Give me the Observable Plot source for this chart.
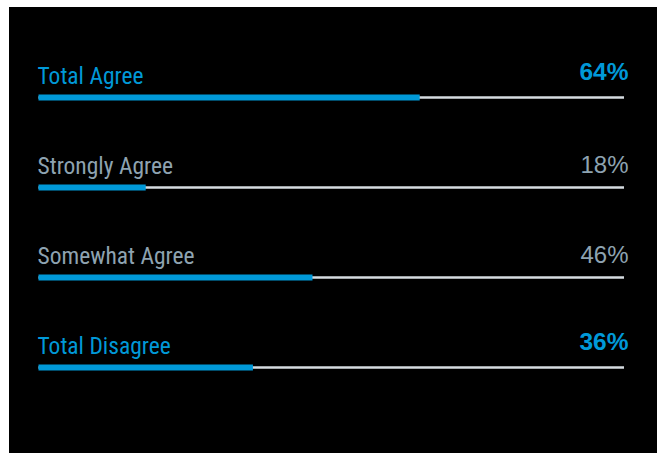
<!DOCTYPE html>
<html>
<head>
<meta charset="utf-8">
<script src="https://cdn.jsdelivr.net/npm/d3@7"></script>
<script src="https://cdn.jsdelivr.net/npm/@observablehq/plot@0.6"></script>
<style>
  html, body { margin: 0; padding: 0; background: #ffffff; }
  #chart { position: absolute; left: 9px; top: 7px; }
  #chart svg { background: #000000; display: block; }
</style>
</head>
<body>
<div id="chart"></div>
<script>
const categories = ["Total Agree", "Strongly Agree", "Somewhat Agree", "Total Disagree"];
const values = [64, 18, 46, 36];
const isTotal = [true, false, false, true];
const axisMax = 98.3;

const data = categories.map((c, i) => ({ category: c, value: values[i], total: isTotal[i] }));

const BLUE = "#0099d8";
const GREY_TEXT = "#8ea3b1";
const TRACK = "#d6dce1";
const labelFont = "'Liberation Sans Narrow', 'Roboto Condensed', 'DejaVu Sans Condensed', sans-serif";
const pctFont = "'Liberation Sans', Arial, sans-serif";

const plot = Plot.plot({
  width: 648,
  height: 446,
  margin: 0,
  style: { background: "#000000", overflow: "visible" },
  x: { domain: [0, axisMax], range: [29.5, 615], axis: null },
  y: { type: "point", domain: categories, range: [89.5, 359.5], padding: 0, axis: null },
  color: { type: "identity" },
  marks: [
    Plot.ruleY(data, { y: "category", x1: 0, x2: axisMax, stroke: TRACK, strokeWidth: 2.5 }),
    Plot.ruleY(data, { y: "category", x1: 0, x2: "value", stroke: BLUE, strokeWidth: 6 }),
    Plot.text(data, {
      x: 0, y: "category", text: "category",
      textAnchor: "start", lineAnchor: "bottom", dx: -1.5, dy: -14,
      fill: d => d.total ? BLUE : GREY_TEXT,
      fontSize: 23.5, fontFamily: labelFont
    }),
    Plot.text(data.filter(d => d.total), {
      x: axisMax, y: "category", text: d => d.value + "%",
      textAnchor: "end", lineAnchor: "bottom", dx: 4, dy: -18,
      fill: BLUE, fontWeight: "bold",
      fontSize: 24.5, fontFamily: pctFont
    }),
    Plot.text(data.filter(d => !d.total), {
      x: axisMax, y: "category", text: d => d.value + "%",
      textAnchor: "end", lineAnchor: "bottom", dx: 4, dy: -15,
      fill: GREY_TEXT, fontWeight: "normal",
      fontSize: 24, fontFamily: pctFont
    })
  ]
});
document.getElementById("chart").appendChild(plot);
</script>
</body>
</html>
